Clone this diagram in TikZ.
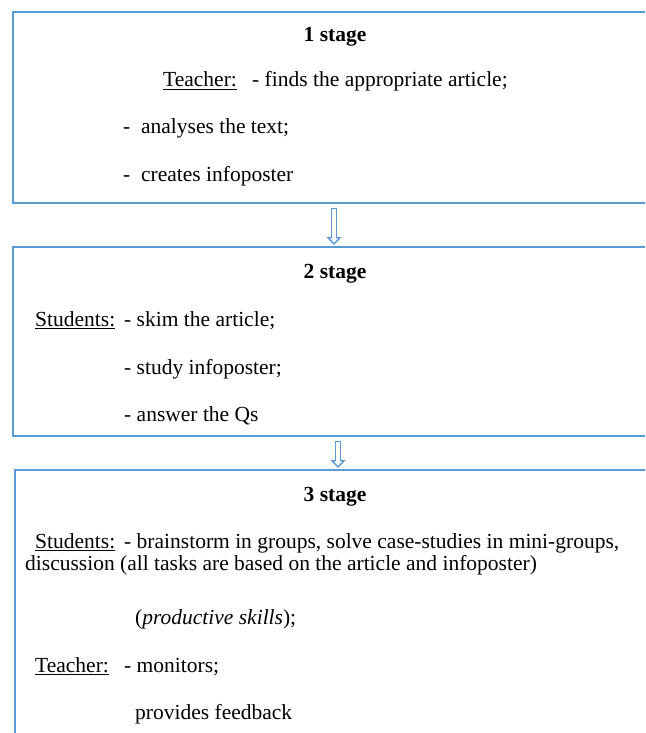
\documentclass[tikz,border=0pt]{standalone}
\usepackage{fontspec}
\setmainfont{Liberation Serif}
\usetikzlibrary{arrows.meta}
\definecolor{stageblue}{RGB}{91,155,213}

\tikzset{
  stagebox/.style={draw=stageblue, line width=2.5pt, inner sep=0pt, outer sep=0pt, anchor=north west, minimum width=660pt},
  txt/.style={anchor=base west, inner sep=0pt, font=\fontsize{21.5}{26}\selectfont},
  ttl/.style={anchor=base, inner sep=0pt, font=\fontsize{21.5}{26}\selectfont\bfseries},
  flow/.style={draw=stageblue, line width=6pt, shorten <=5pt, shorten >=2pt,
    -{Triangle[fill=white, length=8pt, width=15pt, line width=1.4pt]}},
  flowcore/.style={draw=white, line width=3.2pt, shorten <=6.4pt, shorten >=7pt}
}

\begin{document}
\begin{tikzpicture}[x=1pt,y=-1pt]
    \useasboundingbox (0,0) rectangle (645,733);
    \clip (0,0) rectangle (645,733);
    % Boxes
    \node[stagebox, minimum height=191pt] (s1) at (13,12) {};
    \node[stagebox, minimum height=189pt] (s2) at (13,247) {};
    \node[stagebox, minimum height=300pt] (s3) at (15,470) {};

    % Arrows
    \coordinate (a1) at (334,0);
    \coordinate (a2) at (338,0);
    \draw[flow] (s1.south -| a1) -- (s2.north -| a1);
    \draw[flowcore] (s1.south -| a1) -- (s2.north -| a1);
    \draw[flow] (s2.south -| a2) -- (s3.north -| a2);
    \draw[flowcore] (s2.south -| a2) -- (s3.north -| a2);

    % 1 stage
    \node[ttl] (h1) at (335,42) {1 stage};
    \node[txt] (t1lab) at (163,87) {\underline{Teacher:}};
    \node[txt] (t1a) at (252,87) {- finds the appropriate article;};
    \node[txt] (t1b) at (123,134) {-\ \ analyses the text;};
    \node[txt] (t1c) at (123,181) {-\ \ creates infoposter};

    % 2 stage
    \node[ttl] (h2) at (335,278) {2 stage};
    \node[txt] (t2lab) at (35,326) {\underline{Students:}};
    \node[txt] (t2a) at (124,326) {- skim the article;};
    \node[txt] (t2b) at (124,374) {- study infoposter;};
    \node[txt] (t2c) at (124,421) {- answer the Qs};

    % 3 stage
    \node[ttl] (h3) at (335,501) {3 stage};
    \node[txt] (t3lab) at (35,548) {\underline{Students:}};
    \node[txt] (t3a) at (124,548) {- brainstorm in groups, solve case-studies in mini-groups,};
    \node[txt] (t3b) at (25,570) {discussion (all tasks are based on the article and infoposter)};
    \node[txt] (t3c) at (135,624) {(\textit{productive skills});};
    \node[txt] (t3lab2) at (35,672) {\underline{Teacher:}};
    \node[txt] (t3d) at (124,672) {- monitors;};
    \node[txt] (t3e) at (135,719) {provides feedback};
\end{tikzpicture}
\end{document}
